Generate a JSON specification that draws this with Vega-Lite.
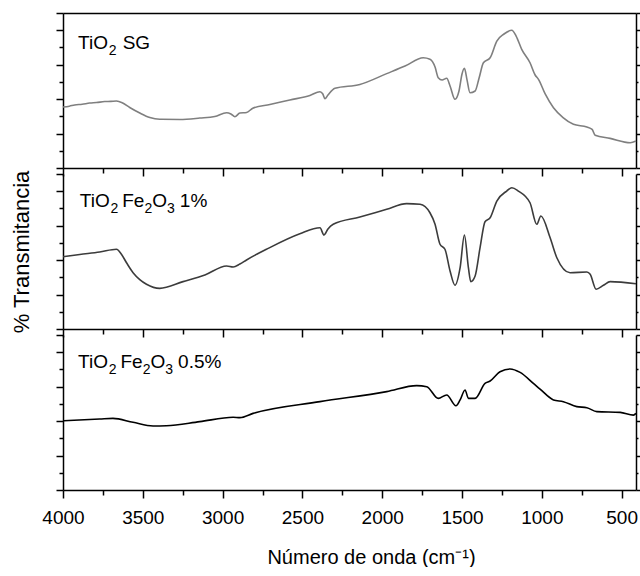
{
  "$schema": "https://vega.github.io/schema/vega-lite/v6.json",
  "padding": {"left": 10, "top": 12, "right": 0, "bottom": 0},
  "spacing": 6,
  "bounds": "flush",
  "datasets": {
    "sg": [
      {"w":4000,"t":35.4},{"w":3960,"t":35.9},{"w":3927,"t":36.6},{"w":3880,"t":37.0},{"w":3833,"t":37.7},{"w":3790,"t":38.0},{"w":3739,"t":38.6},{"w":3700,"t":38.7},{"w":3665,"t":38.9},{"w":3626,"t":37.7},{"w":3582,"t":35.1},{"w":3519,"t":31.9},{"w":3456,"t":29.3},{"w":3394,"t":28.3},{"w":3268,"t":28.2},{"w":3143,"t":29.0},{"w":3049,"t":29.9},{"w":2975,"t":32.1},{"w":2948,"t":31.4},{"w":2923,"t":29.8},{"w":2892,"t":31.9},{"w":2850,"t":32.2},{"w":2811,"t":34.7},{"w":2704,"t":36.9},{"w":2579,"t":39.5},{"w":2453,"t":42.1},{"w":2390,"t":44.3},{"w":2372,"t":43.0},{"w":2359,"t":40.2},{"w":2340,"t":42.4},{"w":2296,"t":46.3},{"w":2140,"t":48.5},{"w":1972,"t":54.8},{"w":1857,"t":59.2},{"w":1743,"t":64.0},{"w":1701,"t":63.1},{"w":1669,"t":58.6},{"w":1649,"t":52.4},{"w":1625,"t":51.1},{"w":1596,"t":52.1},{"w":1575,"t":47.6},{"w":1544,"t":39.9},{"w":1519,"t":44.7},{"w":1500,"t":54.6},{"w":1485,"t":57.9},{"w":1469,"t":51.3},{"w":1450,"t":43.7},{"w":1418,"t":44.7},{"w":1393,"t":52.3},{"w":1366,"t":61.1},{"w":1324,"t":64.0},{"w":1282,"t":73.7},{"w":1237,"t":77.8},{"w":1188,"t":80.0},{"w":1161,"t":76.6},{"w":1126,"t":68.9},{"w":1074,"t":61.1},{"w":1042,"t":54.0},{"w":1021,"t":51.5},{"w":979,"t":43.0},{"w":927,"t":35.0},{"w":867,"t":29.3},{"w":802,"t":25.4},{"w":718,"t":23.8},{"w":685,"t":22.4},{"w":666,"t":19.0},{"w":572,"t":17.2},{"w":446,"t":14.7},{"w":410,"t":15.7}
    ],
    "fe1": [
      {"w":4000,"t":42.0},{"w":3895,"t":43.3},{"w":3770,"t":44.7},{"w":3665,"t":46.3},{"w":3634,"t":43.4},{"w":3601,"t":38.3},{"w":3561,"t":32.7},{"w":3519,"t":28.7},{"w":3477,"t":26.0},{"w":3394,"t":23.6},{"w":3248,"t":27.5},{"w":3111,"t":31.4},{"w":2975,"t":36.6},{"w":2934,"t":36.0},{"w":2892,"t":37.7},{"w":2850,"t":40.1},{"w":2725,"t":46.3},{"w":2516,"t":55.3},{"w":2390,"t":58.8},{"w":2365,"t":54.6},{"w":2340,"t":58.1},{"w":2307,"t":60.8},{"w":2140,"t":65.0},{"w":1972,"t":69.5},{"w":1847,"t":72.8},{"w":1763,"t":72.4},{"w":1701,"t":67.5},{"w":1669,"t":60.8},{"w":1638,"t":49.2},{"w":1607,"t":46.3},{"w":1575,"t":33.7},{"w":1544,"t":25.4},{"w":1512,"t":35.6},{"w":1485,"t":54.6},{"w":1460,"t":35.6},{"w":1445,"t":27.5},{"w":1418,"t":30.8},{"w":1387,"t":47.2},{"w":1356,"t":62.3},{"w":1324,"t":64.6},{"w":1282,"t":74.3},{"w":1220,"t":80.1},{"w":1188,"t":82.0},{"w":1147,"t":80.1},{"w":1074,"t":73.3},{"w":1032,"t":60.8},{"w":1006,"t":65.6},{"w":948,"t":53.0},{"w":906,"t":41.4},{"w":823,"t":32.7},{"w":718,"t":33.1},{"w":697,"t":31.8},{"w":660,"t":23.1},{"w":614,"t":25.4},{"w":572,"t":27.5},{"w":410,"t":26.3}
    ],
    "fe05": [
      {"w":4000,"t":40.2},{"w":3770,"t":41.2},{"w":3687,"t":41.6},{"w":3561,"t":39.3},{"w":3436,"t":37.2},{"w":3352,"t":37.3},{"w":3143,"t":39.7},{"w":2934,"t":42.2},{"w":2892,"t":42.0},{"w":2809,"t":44.5},{"w":2390,"t":51.3},{"w":1972,"t":57.1},{"w":1784,"t":60.6},{"w":1721,"t":60.0},{"w":1649,"t":53.2},{"w":1596,"t":55.2},{"w":1538,"t":48.9},{"w":1512,"t":52.3},{"w":1481,"t":58.1},{"w":1460,"t":53.2},{"w":1418,"t":53.2},{"w":1356,"t":61.9},{"w":1324,"t":63.3},{"w":1262,"t":68.7},{"w":1199,"t":70.3},{"w":1136,"t":68.3},{"w":1053,"t":61.9},{"w":1011,"t":58.6},{"w":927,"t":52.3},{"w":865,"t":51.3},{"w":781,"t":48.4},{"w":718,"t":47.8},{"w":655,"t":45.5},{"w":509,"t":45.1},{"w":426,"t":43.5},{"w":410,"t":44.5}
    ],
    "labels": [
      {"panel":"sg","kind":"main","w":3906,"t":69,"s":"TiO"},
      {"panel":"sg","kind":"sub","w":3714,"t":69,"s":"2"},
      {"panel":"sg","kind":"main","w":3626,"t":69,"s":"SG"},
      {"panel":"fe1","kind":"main","w":3895,"t":71,"s":"TiO"},
      {"panel":"fe1","kind":"sub","w":3703,"t":71,"s":"2"},
      {"panel":"fe1","kind":"main","w":3629,"t":71,"s":"Fe"},
      {"panel":"fe1","kind":"sub","w":3490,"t":71,"s":"2"},
      {"panel":"fe1","kind":"main","w":3441,"t":71,"s":"O"},
      {"panel":"fe1","kind":"sub","w":3349,"t":71,"s":"3"},
      {"panel":"fe1","kind":"main","w":3268,"t":71,"s":"1%"},
      {"panel":"fe05","kind":"main","w":3906,"t":71,"s":"TiO"},
      {"panel":"fe05","kind":"sub","w":3714,"t":71,"s":"2"},
      {"panel":"fe05","kind":"main","w":3640,"t":71,"s":"Fe"},
      {"panel":"fe05","kind":"sub","w":3501,"t":71,"s":"2"},
      {"panel":"fe05","kind":"main","w":3452,"t":71,"s":"O"},
      {"panel":"fe05","kind":"sub","w":3359,"t":71,"s":"3"},
      {"panel":"fe05","kind":"main","w":3279,"t":71,"s":"0.5%"}
    ]
  },
  "vconcat": [
    {
      "width": 573, "height": 155,
      "layer": [
        {
          "data": {"name": "sg"},
          "mark": {"type": "line", "color": "#7f7f7f", "strokeWidth": 1.6, "interpolate": "monotone"},
          "encoding": {
            "x": {"field": "w", "type": "quantitative", "scale": {"domain": [410, 4000], "reverse": true, "nice": false, "zero": false},
                  "axis": {"orient": "bottom", "values": [4000,3750,3500,3250,3000,2750,2500,2250,2000,1750,1500,1250,1000,750,500], "tickSize": {"condition": {"test": "datum.value % 500 === 0", "value": 8}, "value": 5}, "labels": false, "title": null}},
            "y": {"field": "t", "type": "quantitative", "scale": {"domain": [0, 90], "nice": false, "zero": false},
                  "axis": {"orient": "left", "values": [0,10,20,30,40,50,60,70,80,90], "tickSize": {"condition": {"test": "datum.value % 20 === 0 || datum.value === 90", "value": 7}, "value": 4}, "labels": false, "title": null}}
          }
        },
        {
          "data": {"name": "labels"},
          "transform": [{"filter": "datum.panel === 'sg' && datum.kind === 'main'"}],
          "mark": {"type": "text", "align": "left", "baseline": "alphabetic", "fontSize": 19, "color": "black"},
          "encoding": {
            "x": {"field": "w", "type": "quantitative", "axis": {"orient": "top", "labels": false, "ticks": false, "domain": true, "title": null}},
            "y": {"field": "t", "type": "quantitative", "axis": {"orient": "right", "values": [0,10,20,30,40,50,60,70,80,90], "tickSize": {"condition": {"test": "datum.value % 20 === 0 || datum.value === 90", "value": 4}, "value": 2}, "labels": false, "title": null}},
            "text": {"field": "s"}
          }
        },
        {
          "data": {"name": "labels"},
          "transform": [{"filter": "datum.panel === 'sg' && datum.kind === 'sub'"}],
          "mark": {"type": "text", "align": "left", "baseline": "alphabetic", "fontSize": 14, "dy": 6, "color": "black"},
          "encoding": {
            "x": {"field": "w", "type": "quantitative", "axis": null},
            "y": {"field": "t", "type": "quantitative", "axis": null},
            "text": {"field": "s"}
          }
        }
      ],
      "resolve": {"axis": {"x": "independent", "y": "independent"}}
    },
    {
      "width": 573, "height": 155,
      "layer": [
        {
          "data": {"name": "fe1"},
          "mark": {"type": "line", "color": "#3c3c3c", "strokeWidth": 1.6, "interpolate": "monotone"},
          "encoding": {
            "x": {"field": "w", "type": "quantitative", "scale": {"domain": [410, 4000], "reverse": true, "nice": false, "zero": false},
                  "axis": {"orient": "bottom", "values": [4000,3750,3500,3250,3000,2750,2500,2250,2000,1750,1500,1250,1000,750,500], "tickSize": {"condition": {"test": "datum.value % 500 === 0", "value": 8}, "value": 5}, "labels": false, "title": null}},
            "y": {"field": "t", "type": "quantitative", "scale": {"domain": [0, 90], "nice": false, "zero": false},
                  "axis": {"orient": "left", "values": [0,10,20,30,40,50,60,70,80,90], "tickSize": {"condition": {"test": "datum.value % 20 === 0 || datum.value === 90", "value": 7}, "value": 4}, "labels": false, "title": "% Transmitancia", "titleFontSize": 22, "titlePadding": 22}}
          }
        },
        {
          "data": {"name": "labels"},
          "transform": [{"filter": "datum.panel === 'fe1' && datum.kind === 'main'"}],
          "mark": {"type": "text", "align": "left", "baseline": "alphabetic", "fontSize": 19, "color": "black"},
          "encoding": {
            "x": {"field": "w", "type": "quantitative", "axis": null},
            "y": {"field": "t", "type": "quantitative", "axis": {"orient": "right", "values": [0,10,20,30,40,50,60,70,80,90], "tickSize": {"condition": {"test": "datum.value % 20 === 0 || datum.value === 90", "value": 4}, "value": 2}, "labels": false, "title": null}},
            "text": {"field": "s"}
          }
        },
        {
          "data": {"name": "labels"},
          "transform": [{"filter": "datum.panel === 'fe1' && datum.kind === 'sub'"}],
          "mark": {"type": "text", "align": "left", "baseline": "alphabetic", "fontSize": 14, "dy": 6, "color": "black"},
          "encoding": {
            "x": {"field": "w", "type": "quantitative", "axis": null},
            "y": {"field": "t", "type": "quantitative", "axis": null},
            "text": {"field": "s"}
          }
        }
      ],
      "resolve": {"axis": {"x": "independent", "y": "independent"}}
    },
    {
      "width": 573, "height": 155,
      "layer": [
        {
          "data": {"name": "fe05"},
          "mark": {"type": "line", "color": "#000000", "strokeWidth": 1.6, "interpolate": "monotone"},
          "encoding": {
            "x": {"field": "w", "type": "quantitative", "scale": {"domain": [410, 4000], "reverse": true, "nice": false, "zero": false},
                  "axis": {"orient": "bottom", "values": [4000,3750,3500,3250,3000,2750,2500,2250,2000,1750,1500,1250,1000,750,500], "tickSize": {"condition": {"test": "datum.value % 500 === 0", "value": 8}, "value": 5}, "labels": true, "labelExpr": "datum.value % 500 === 0 ? datum.label : ''", "labelFontSize": 19, "labelPadding": 10, "labelFlush": false, "labelOverlap": false, "format": "d", "title": "Número de onda (cm⁻¹)", "titleFontSize": 20, "titlePadding": 20, "titleX": 308}},
            "y": {"field": "t", "type": "quantitative", "scale": {"domain": [0, 90], "nice": false, "zero": false},
                  "axis": {"orient": "left", "values": [0,10,20,30,40,50,60,70,80,90], "tickSize": {"condition": {"test": "datum.value % 20 === 0 || datum.value === 90", "value": 7}, "value": 4}, "labels": false, "title": null}}
          }
        },
        {
          "data": {"name": "labels"},
          "transform": [{"filter": "datum.panel === 'fe05' && datum.kind === 'main'"}],
          "mark": {"type": "text", "align": "left", "baseline": "alphabetic", "fontSize": 19, "color": "black"},
          "encoding": {
            "x": {"field": "w", "type": "quantitative", "axis": null},
            "y": {"field": "t", "type": "quantitative", "axis": {"orient": "right", "values": [0,10,20,30,40,50,60,70,80,90], "tickSize": {"condition": {"test": "datum.value % 20 === 0 || datum.value === 90", "value": 4}, "value": 2}, "labels": false, "title": null}},
            "text": {"field": "s"}
          }
        },
        {
          "data": {"name": "labels"},
          "transform": [{"filter": "datum.panel === 'fe05' && datum.kind === 'sub'"}],
          "mark": {"type": "text", "align": "left", "baseline": "alphabetic", "fontSize": 14, "dy": 6, "color": "black"},
          "encoding": {
            "x": {"field": "w", "type": "quantitative", "axis": null},
            "y": {"field": "t", "type": "quantitative", "axis": null},
            "text": {"field": "s"}
          }
        }
      ],
      "resolve": {"axis": {"x": "independent", "y": "independent"}}
    }
  ],
  "config": {
    "font": "Liberation Sans, Arial, sans-serif",
    "view": {"stroke": null},
    "axis": {"domainColor": "black", "tickColor": "black", "domainWidth": 1.5, "tickWidth": 1.5, "grid": false, "labelColor": "black", "titleColor": "black", "titleFontWeight": "normal", "labelFont": "Liberation Sans, Arial, sans-serif", "titleFont": "Liberation Sans, Arial, sans-serif"},
    "text": {"font": "Liberation Sans, Arial, sans-serif"}
  }
}
